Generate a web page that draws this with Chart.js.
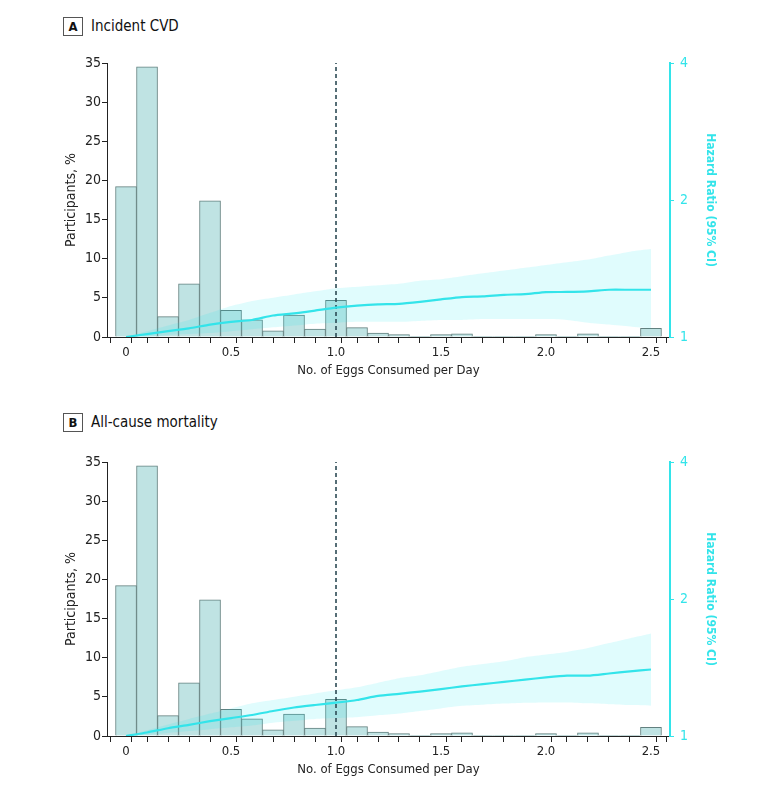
<!DOCTYPE html>
<html>
<head>
<meta charset="utf-8">
<script src="https://cdn.jsdelivr.net/npm/chart.js@4.4.1/dist/chart.umd.min.js"></script>
<style>
  body { margin: 0; background: #fff; font-family: 'Liberation Sans Narrow', 'DejaVu Sans Condensed', sans-serif; }
  #page { position: relative; width: 780px; height: 791px; }
  .tag { position: absolute; left: 63px; width: 18px; height: 17px; border: 1px solid #555; font-weight: bold;
         font-size: 13px; line-height: 17px; text-align: center; color: #111; }
  .head { position: absolute; left: 91px; font-size: 15px; line-height: 19px; color: #111; }
  canvas { position: absolute; left: 0; }
</style>
</head>
<body>
<div id="page">
  <div class="tag" style="top:17px">A</div>
  <div class="head" style="top:17px">Incident CVD</div>
  <canvas id="cvdChart" width="780" height="343" style="top:40px"></canvas>

  <div class="tag" style="top:413px">B</div>
  <div class="head" style="top:413px">All-cause mortality</div>
  <canvas id="mortChart" width="780" height="343" style="top:439px"></canvas>
</div>

<script>
// Data
const eggBins = [0, 0.1, 0.2, 0.3, 0.4, 0.5, 0.6, 0.7, 0.8, 0.9, 1.0, 1.1, 1.2,
                 1.3, 1.4, 1.5, 1.6, 1.7, 1.8, 1.9, 2.0, 2.1, 2.2, 2.3, 2.4, 2.5];
const participantsPct = [19.2, 34.5, 2.6, 6.8, 17.4, 3.4, 2.2, 0.8, 2.8, 1.0, 4.7, 1.2, 0.5,
                         0.3, 0.1, 0.3, 0.4, 0.1, 0.1, 0.05, 0.3, 0.1, 0.4, 0.05, 0.05, 1.1];

// Panel A: incident CVD hazard ratio with 95% CI
const cvdHR = [1.00, 1.015, 1.03, 1.045, 1.065, 1.08, 1.09, 1.115, 1.127, 1.143, 1.16, 1.172, 1.18,
               1.183, 1.195, 1.21, 1.224, 1.228, 1.238, 1.242, 1.255, 1.256, 1.26, 1.27, 1.27, 1.27];
const cvdUpper = [1.00, 1.03, 1.06, 1.09, 1.13, 1.17, 1.20, 1.22, 1.24, 1.26, 1.28, 1.29, 1.30,
                  1.31, 1.33, 1.34, 1.36, 1.38, 1.40, 1.42, 1.44, 1.46, 1.48, 1.51, 1.54, 1.56];
const cvdLower = [1.00, 1.00, 1.01, 1.015, 1.02, 1.03, 1.04, 1.05, 1.06, 1.07, 1.075, 1.08, 1.08,
                  1.08, 1.085, 1.09, 1.09, 1.095, 1.095, 1.095, 1.095, 1.09, 1.075, 1.065, 1.055, 1.045];

// Panel B: all-cause mortality hazard ratio with 95% CI
const mortHR = [1.00, 1.018, 1.04, 1.058, 1.078, 1.095, 1.112, 1.135, 1.155, 1.17, 1.184, 1.20, 1.225,
                1.238, 1.252, 1.268, 1.285, 1.30, 1.315, 1.33, 1.345, 1.357, 1.357, 1.372, 1.387, 1.40];
const mortUpper = [1.00, 1.03, 1.06, 1.09, 1.12, 1.15, 1.18, 1.20, 1.22, 1.24, 1.26, 1.28, 1.31,
                   1.34, 1.36, 1.39, 1.42, 1.44, 1.46, 1.49, 1.51, 1.53, 1.56, 1.60, 1.64, 1.68];
const mortLower = [1.00, 1.005, 1.015, 1.025, 1.035, 1.045, 1.055, 1.07, 1.08, 1.09, 1.095, 1.10, 1.11,
                   1.12, 1.135, 1.15, 1.165, 1.172, 1.178, 1.183, 1.185, 1.185, 1.18, 1.175, 1.17, 1.166];

const xTickLabels = [0, 0.5, 1.0, 1.5, 2.0, 2.5];
const pctTicks = [0, 5, 10, 15, 20, 25, 30, 35];
const hrTicks = [1, 2, 4];
const refLineX = 1.0;   // dashed reference at 1 egg per day

const FONT = "'Liberation Sans Narrow', 'DejaVu Sans Condensed', sans-serif";
const CYAN = '#33e4ea';
const INK = '#222';

function pairs(ys) {
  return eggBins.map((x, i) => ({ x: x, y: ys[i] }));
}

function buildChart(canvasId, pct, hr, lower, upper) {
  const ctx = document.getElementById(canvasId);
  new Chart(ctx, {
    type: 'bar',
    data: {
      datasets: [
        {
          type: 'bar',
          data: pairs(pct),
          yAxisID: 'y',
          backgroundColor: '#bfe3e3',
          borderColor: '#62807f',
          borderWidth: 1,
          barThickness: 'flex',
          barPercentage: 1,
          categoryPercentage: 1,
          order: 5
        },
        {
          type: 'line',
          data: pairs(upper),
          yAxisID: 'y1',
          borderWidth: 0,
          pointRadius: 0,
          tension: 0.2,
          fill: '+1',
          backgroundColor: 'rgba(0, 230, 240, 0.12)',
          order: 3
        },
        {
          type: 'line',
          data: pairs(lower),
          yAxisID: 'y1',
          borderWidth: 0,
          pointRadius: 0,
          tension: 0.2,
          fill: false,
          order: 3
        },
        {
          type: 'line',
          data: [{ x: refLineX, y: 0 }, { x: refLineX, y: 35 }],
          yAxisID: 'y',
          borderColor: '#2d4b55',
          borderWidth: 1.6,
          borderDash: [4, 3],
          pointRadius: 0,
          order: 2
        },
        {
          type: 'line',
          data: pairs(hr),
          yAxisID: 'y1',
          borderColor: CYAN,
          borderWidth: 2.2,
          pointRadius: 0,
          tension: 0.2,
          fill: false,
          order: 1
        }
      ]
    },
    options: {
      responsive: false,
      animation: false,
      layout: { padding: { top: 23, left: 59, right: 59, bottom: 0 } },
      plugins: { legend: { display: false }, tooltip: { enabled: false } },
      scales: {
        x: {
          type: 'linear',
          min: -0.05,
          max: 2.55,
          afterBuildTicks: (scale) => {
            const t = [];
            for (let i = 0; i <= 26; i++) t.push({ value: -0.05 + i * 0.1, lbl: null });
            xTickLabels.forEach(v => t.push({ value: v, lbl: v === 0 ? '0' : v.toFixed(1) }));
            t.sort((a, b) => a.value - b.value);
            scale.ticks = t;
          },
          afterFit: (scale) => { scale.height = 46; },
          ticks: {
            autoSkip: false,
            maxRotation: 0,
            padding: 2,
            color: INK,
            font: { family: FONT, size: 13 },
            callback: (v, i, ticks) => ticks[i].lbl || ''
          },
          grid: {
            drawOnChartArea: false,
            tickLength: 6,
            tickColor: (c) => (c.tick && c.tick.lbl) ? 'rgba(0,0,0,0)' : INK
          },
          border: { color: INK, width: 1 },
          title: {
            display: true,
            text: 'No. of Eggs Consumed per Day',
            color: INK,
            font: { family: FONT, size: 13 },
            padding: { top: 2, bottom: 5 }
          }
        },
        y: {
          position: 'left',
          min: 0,
          max: 35,
          afterBuildTicks: (scale) => { scale.ticks = pctTicks.map(v => ({ value: v })); },
          afterFit: (scale) => { scale.width = 48; },
          ticks: { color: INK, padding: 1, font: { family: FONT, size: 14 } },
          grid: { drawOnChartArea: false, tickLength: 5, tickColor: INK },
          border: { color: INK, width: 1 },
          title: {
            display: true,
            text: 'Participants, %',
            color: INK,
            font: { family: FONT, size: 14 }
          }
        },
        y1: {
          type: 'logarithmic',
          position: 'right',
          min: 1,
          max: 4,
          afterBuildTicks: (scale) => { scale.ticks = hrTicks.map(v => ({ value: v })); },
          afterFit: (scale) => { scale.width = 51; },
          ticks: {
            color: CYAN,
            padding: 6,
            font: { family: FONT, size: 14 },
            callback: (v) => String(v)
          },
          grid: { drawOnChartArea: false, tickLength: 4, tickColor: CYAN },
          border: { color: CYAN, width: 2 },
          title: {
            display: true,
            text: 'Hazard Ratio (95% CI)',
            color: CYAN,
            font: { family: FONT, size: 12, weight: 'bold' }
          }
        }
      }
    }
  });
}

buildChart('cvdChart', participantsPct, cvdHR, cvdLower, cvdUpper);
buildChart('mortChart', participantsPct, mortHR, mortLower, mortUpper);
</script>
</body>
</html>
